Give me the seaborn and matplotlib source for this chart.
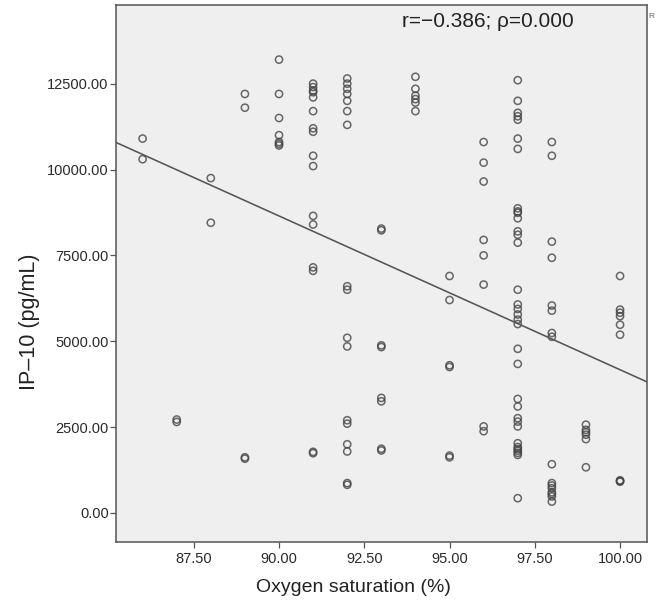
import matplotlib
matplotlib.use("Agg")
import matplotlib.pyplot as plt
import numpy as np
import pandas as pd
import seaborn as sns
from matplotlib.ticker import FormatStrFormatter

# IP-10 values (pg/mL), grouped by oxygen saturation (%)
# (darker circles in the chart hold several overlapping cases)
ip10_86 = [10900, 10300]
ip10_87 = [2720, 2650]
ip10_88 = [9750, 8450]
ip10_89 = [12200, 11800, 1620, 1580]
ip10_90 = [13200, 12200, 11500, 11000, 10800, 10750, 10700]
ip10_91 = [12500, 12400, 12300, 12250, 12100, 11700, 11200, 11100, 10400,
           10100, 8650, 8400, 7150, 7050, 1780, 1740]
ip10_92 = [12650, 12500, 12350, 12200, 12000, 11700, 11300, 6600, 6500,
           5100, 4850, 2700, 2600, 2000, 1790, 870, 820]
ip10_93 = [8280, 8230, 4880, 4830, 3350, 3250, 1870, 1820]
ip10_94 = [12700, 12350, 12150, 12050, 11950, 11700]
ip10_95 = [6900, 6200, 4300, 4250, 1670, 1620]
ip10_96 = [10800, 10200, 9650, 7950, 7500, 6650, 2520, 2380]
ip10_97 = [12600, 12000, 11650, 11550, 11450, 10900, 10600, 8870, 8780,
           8740, 8580, 8200, 8100, 7870, 6500, 6070, 5940, 5780, 5630, 5500,
           4780, 4340, 3320, 3100, 2760, 2660, 2520, 2030, 1920, 1860, 1810,
           1750, 1690, 430]
ip10_98 = [10800, 10400, 7900, 7430, 6040, 5890, 5240, 5130, 1420, 870, 800,
           720, 600, 550, 480, 330]
ip10_99 = [2570, 2420, 2350, 2280, 2150, 1330]
ip10_100 = [6900, 5920, 5830, 5730, 5480, 5190, 950, 930, 910]

saturation_levels = [86, 87, 88, 89, 90, 91, 92, 93, 94, 95, 96, 97, 98, 99, 100]
ip10_groups = [ip10_86, ip10_87, ip10_88, ip10_89, ip10_90, ip10_91, ip10_92,
               ip10_93, ip10_94, ip10_95, ip10_96, ip10_97, ip10_98, ip10_99,
               ip10_100]

x_ticks = [87.5, 90.0, 92.5, 95.0, 97.5, 100.0]
y_ticks = [0, 2500, 5000, 7500, 10000, 12500]
annotation = "r=\u22120.386; \u03c1=0.000"

rows = []
for sat, vals in zip(saturation_levels, ip10_groups):
    for v in vals:
        rows.append((sat, v))
df = pd.DataFrame(rows, columns=["saturation", "ip10"])

sns.set_style("ticks")
plt.rcParams["font.family"] = ["Liberation Sans", "DejaVu Sans"]

fig = plt.figure(figsize=(6.64, 6.02), dpi=100)
ax = fig.add_axes([0.1747, 0.0997, 0.7997, 0.8920])
ax.set_facecolor("#efefef")
ax.set_xlim(85.22, 100.79)
ax.set_ylim(-845, 14790)

sns.regplot(data=df, x="saturation", y="ip10", ax=ax, ci=None, truncate=False,
            color="#555555",
            scatter_kws=dict(facecolors="none", edgecolors="#444444", s=27,
                             linewidths=1.1),
            line_kws=dict(color="#555555", linewidth=1.15))

ax.set_xlim(85.22, 100.79)
ax.set_ylim(-845, 14790)
ax.set_xticks(x_ticks)
ax.set_yticks(y_ticks)
ax.xaxis.set_major_formatter(FormatStrFormatter("%.2f"))
ax.yaxis.set_major_formatter(FormatStrFormatter("%.2f"))
ax.tick_params(axis="both", direction="out", length=4.3, width=0.9,
               color="#555555", labelsize=10.5, labelcolor="#2a2a2a")
ax.tick_params(axis="x", pad=3)
ax.tick_params(axis="y", pad=1)

for sp in ax.spines.values():
    sp.set_color("#555555")
    sp.set_linewidth(1.1)
    sp.set_visible(True)

ax.set_xlabel("Oxygen saturation (%)", fontsize=14, color="#222222")
ax.set_ylabel("IP\u201310 (pg/mL)", fontsize=15.5, color="#222222")
ax.xaxis.set_label_coords(0.448, -0.069)
ax.yaxis.set_label_coords(-0.143, 0.41)

ax.text(0.5386, 0.959, annotation, transform=ax.transAxes, ha="left",
        va="baseline", fontsize=15, color="#222222")
fig.text(648 / 664, 1 - 17 / 602, "R", ha="left", va="center", fontsize=6,
         color="#666666")

fig.savefig("out.png", dpi=100)
